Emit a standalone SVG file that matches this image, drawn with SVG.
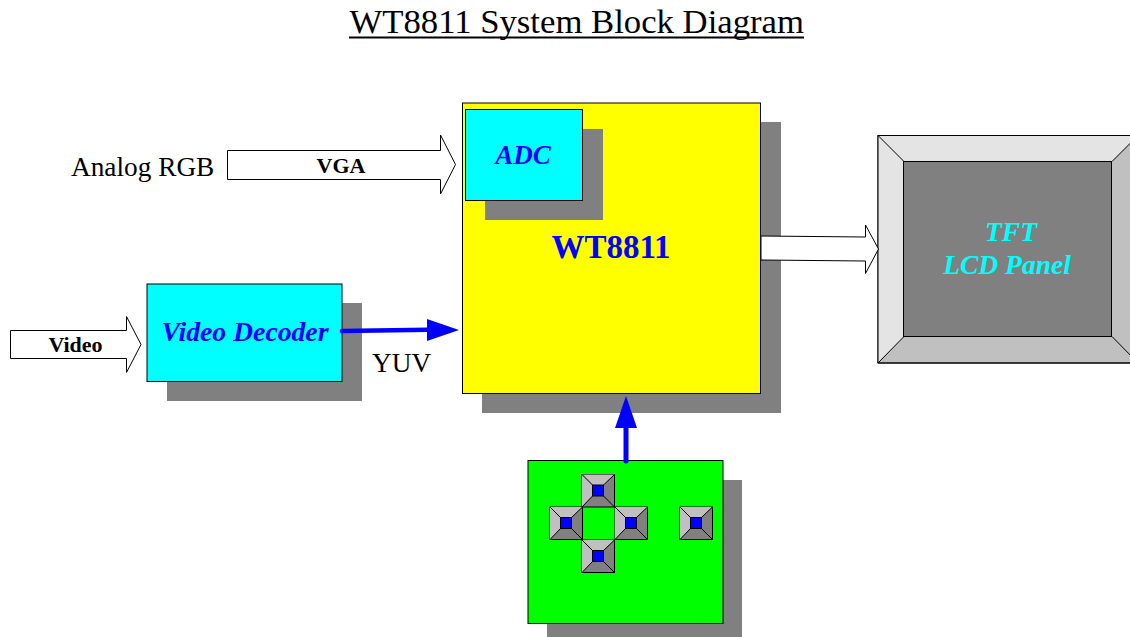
<svg xmlns="http://www.w3.org/2000/svg" width="1130" height="637" viewBox="0 0 1130 637">
<style>
text{font-family:"Liberation Serif","Times New Roman",serif}
.s{fill:#808080}
.b{stroke:#000;stroke-width:1}
.ar{fill:#fff;stroke:#000;stroke-width:1}
.bi{font-weight:bold;font-style:italic;text-anchor:middle}
.bd{font-weight:bold;text-anchor:middle;font-size:22px;fill:#000}
.lbl{font-size:27.300px;fill:#000}
.l1{fill:#c0c0c0}.l2{fill:#808080}
.fl{fill:#0000ff;stroke:none}
</style>
<defs>
<g id="btn">
<rect x="-16" y="-16" width="32.500" height="32.500" fill="#808080" stroke="#000"/>
<polygon points="-16,-16 16.500,-16 5.500,-5.500 -5.500,-5.500" class="l1"/>
<polygon points="-16,-16 -5.500,-5.500 -5.500,5.500 -16,16.500" class="l1"/>
<path d="M-16-16L-5.500-5.500M16.500-16L5.500-5.500M-16 16.500L-5.500 5.500M16.500 16.500L5.500 5.500" stroke="#000" fill="none"/>
<rect x="-5.500" y="-5.500" width="11" height="11" fill="#0000ff" stroke="#000"/>
</g>
</defs>
<rect width="1130" height="637" fill="#fff"/>
<g id="title"><text x="349.500" y="33" font-size="34" fill="#000" textLength="454.500" lengthAdjust="spacingAndGlyphs">WT8811 System Block Diagram</text><line x1="349" y1="37.500" x2="804" y2="37.500" stroke="#000" stroke-width="2"/></g>
<g id="wt8811">
<rect class="s" x="482" y="122" width="299" height="291"/>
<rect class="b" x="462.500" y="103" width="298" height="290.500" fill="#ffff00"/>
<text class="bi" x="611" y="258" font-size="33" fill="#0000ff" style="font-style:normal">WT8811</text>
</g>
<g id="adc">
<rect class="s" x="485" y="129" width="118" height="91"/>
<rect class="b" x="465.500" y="109.500" width="117" height="91" fill="#00ffff"/>
<text class="bi" x="523" y="164" font-size="27" fill="#0000ff">ADC</text>
</g>
<g id="video-decoder">
<rect class="s" x="167" y="303" width="195" height="98"/>
<rect class="b" x="147" y="284" width="195" height="97.500" fill="#00ffff"/>
<text class="bi" x="245" y="341" font-size="27.700" fill="#0000ff">Video Decoder</text>
</g>
<g id="lcd-panel">
<rect x="878" y="135.500" width="262" height="227.500" fill="#c0c0c0" stroke="#000"/>
<polygon points="878,135.500 1138,135.500 1112,161.500 904,161.500" fill="#e4e4e4"/>
<polygon points="878,135.500 904,161.500 904,336.500 878,363" fill="#e4e4e4"/>
<path d="M878 135.500L904 161.500M1138 135.500L1112 161.500M878 363L904 336.500M1138 363L1112 336.500M878 135.500H1130M878 135.500V363H1130" stroke="#000" fill="none"/>
<rect x="903.500" y="161.500" width="208" height="175" fill="#808080" stroke="#000"/>
<text class="bi" x="1011" y="241" font-size="27.500" fill="#00ffff">TFT</text>
<text class="bi" x="1007" y="274" font-size="27.500" fill="#00ffff">LCD Panel</text>
</g>
<g id="keypad">
<rect class="s" x="547" y="480" width="195" height="157"/>
<rect class="b" x="528" y="460.500" width="195" height="163" fill="#00ff00"/>
<use href="#btn" x="598" y="490.500"/>
<use href="#btn" x="566" y="523"/>
<use href="#btn" x="631" y="523"/>
<use href="#btn" x="598" y="556"/>
<use href="#btn" x="696" y="523"/>
</g>
<g id="connectors">
<polygon class="ar" points="227.500,150.500 440.500,150.500 440.500,135 455.500,164.500 440.500,194 440.500,179.500 227.500,179.500"/>
<polygon class="ar" points="10.500,330.500 126.500,330.500 126.500,316.500 141,344.500 126.500,372.500 126.500,358.500 10.500,358.500"/>
<polygon class="ar" points="761,236 865.500,237 865.500,225 878.500,249 865.500,273.500 865.500,261 761,260"/>
<path d="M342 331L428 329.700" stroke="#0000ff" stroke-width="4.500" stroke-linecap="round" fill="none"/>
<polygon class="fl" points="427,319 459,330 427,341"/>
<path d="M626 461V426" stroke="#0000ff" stroke-width="5" stroke-linecap="round" fill="none"/>
<polygon class="fl" points="626,396 637,428 615,428"/>
</g>
<g id="labels">
<text class="lbl" x="71" y="176">Analog RGB</text>
<text class="bd" x="341" y="173">VGA</text>
<text class="bd" x="75.500" y="352">Video</text>
<text class="lbl" x="372" y="372">YUV</text>
</g>
</svg>
